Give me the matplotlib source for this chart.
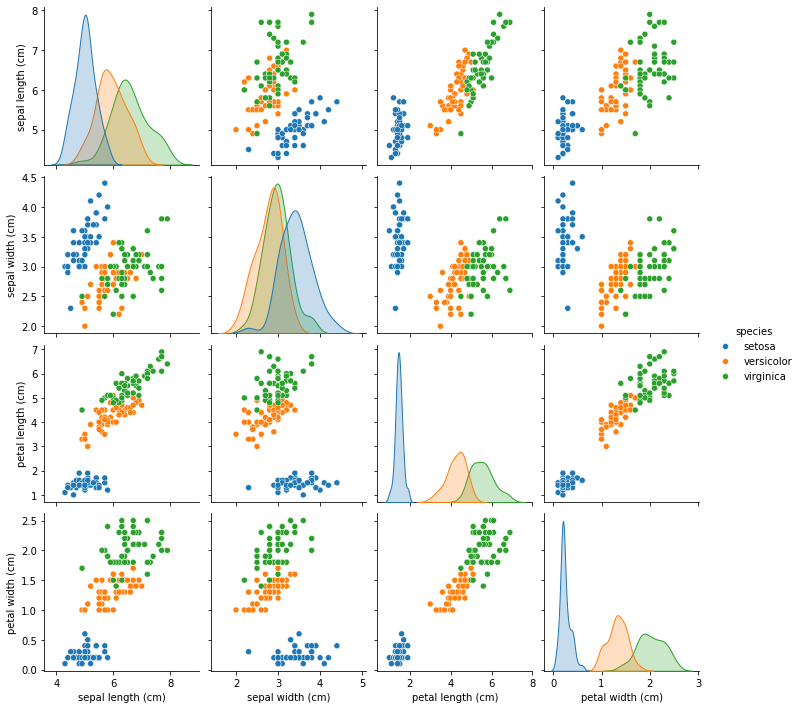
import pandas as pd
import seaborn as sns
import matplotlib
matplotlib.use('Agg')
import matplotlib.pyplot as plt

setosa_sl = [5.1,4.9,4.7,4.6,5.0,5.4,4.6,5.0,4.4,4.9,5.4,4.8,4.8,4.3,5.8,5.7,5.4,5.1,5.7,5.1,5.4,5.1,4.6,5.1,4.8,5.0,5.0,5.2,5.2,4.7,4.8,5.4,5.2,5.5,4.9,5.0,5.5,4.9,4.4,5.1,5.0,4.5,4.4,5.0,5.1,4.8,5.1,4.6,5.3,5.0]
setosa_sw = [3.5,3.0,3.2,3.1,3.6,3.9,3.4,3.4,2.9,3.1,3.7,3.4,3.0,3.0,4.0,4.4,3.9,3.5,3.8,3.8,3.4,3.7,3.6,3.3,3.4,3.0,3.4,3.5,3.4,3.2,3.1,3.4,4.1,4.2,3.1,3.2,3.5,3.6,3.0,3.4,3.5,2.3,3.2,3.5,3.8,3.0,3.8,3.2,3.7,3.3]
setosa_pl = [1.4,1.4,1.3,1.5,1.4,1.7,1.4,1.5,1.4,1.5,1.5,1.6,1.4,1.1,1.2,1.5,1.3,1.4,1.7,1.5,1.7,1.5,1.0,1.7,1.9,1.6,1.6,1.5,1.4,1.6,1.6,1.5,1.5,1.4,1.5,1.2,1.3,1.4,1.3,1.5,1.3,1.3,1.3,1.6,1.9,1.4,1.6,1.4,1.5,1.4]
setosa_pw = [.2,.2,.2,.2,.2,.4,.3,.2,.2,.1,.2,.2,.1,.1,.2,.4,.4,.3,.3,.3,.2,.4,.2,.5,.2,.2,.4,.2,.2,.2,.2,.4,.1,.2,.2,.2,.2,.1,.2,.2,.3,.3,.2,.6,.4,.3,.2,.2,.2,.2]

versicolor_sl = [7.0,6.4,6.9,5.5,6.5,5.7,6.3,4.9,6.6,5.2,5.0,5.9,6.0,6.1,5.6,6.7,5.6,5.8,6.2,5.6,5.9,6.1,6.3,6.1,6.4,6.6,6.8,6.7,6.0,5.7,5.5,5.5,5.8,6.0,5.4,6.0,6.7,6.3,5.6,5.5,5.5,6.1,5.8,5.0,5.6,5.7,5.7,6.2,5.1,5.7]
versicolor_sw = [3.2,3.2,3.1,2.3,2.8,2.8,3.3,2.4,2.9,2.7,2.0,3.0,2.2,2.9,2.9,3.1,3.0,2.7,2.2,2.5,3.2,2.8,2.5,2.8,2.9,3.0,2.8,3.0,2.9,2.6,2.4,2.4,2.7,2.7,3.0,3.4,3.1,2.3,3.0,2.5,2.6,3.0,2.6,2.3,2.7,3.0,2.9,2.9,2.5,2.8]
versicolor_pl = [4.7,4.5,4.9,4.0,4.6,4.5,4.7,3.3,4.6,3.9,3.5,4.2,4.0,4.7,3.6,4.4,4.5,4.1,4.5,3.9,4.8,4.0,4.9,4.7,4.3,4.4,4.8,5.0,4.5,3.5,3.8,3.7,3.9,5.1,4.5,4.5,4.7,4.4,4.1,4.0,4.4,4.6,4.0,3.3,4.2,4.2,4.2,4.3,3.0,4.1]
versicolor_pw = [1.4,1.5,1.5,1.3,1.5,1.3,1.6,1.0,1.3,1.4,1.0,1.5,1.0,1.4,1.3,1.4,1.5,1.0,1.5,1.1,1.8,1.3,1.5,1.2,1.3,1.4,1.4,1.7,1.5,1.0,1.1,1.0,1.2,1.6,1.5,1.6,1.5,1.3,1.3,1.3,1.2,1.4,1.2,1.0,1.3,1.2,1.3,1.3,1.1,1.3]

virginica_sl = [6.3,5.8,7.1,6.3,6.5,7.6,4.9,7.3,6.7,7.2,6.5,6.4,6.8,5.7,5.8,6.4,6.5,7.7,7.7,6.0,6.9,5.6,7.7,6.3,6.7,7.2,6.2,6.1,6.4,7.2,7.4,7.9,6.4,6.3,6.1,7.7,6.3,6.4,6.0,6.9,6.7,6.9,5.8,6.8,6.7,6.7,6.3,6.5,6.2,5.9]
virginica_sw = [3.3,2.7,3.0,2.9,3.0,3.0,2.5,2.9,2.5,3.6,3.2,2.7,3.0,2.5,2.8,3.2,3.0,3.8,2.6,2.2,3.2,2.8,2.8,2.7,3.3,3.2,2.8,3.0,2.8,3.0,2.8,3.8,2.8,2.8,2.6,3.0,3.4,3.1,3.0,3.1,3.1,3.1,2.7,3.2,3.3,3.0,2.5,3.0,3.4,3.0]
virginica_pl = [6.0,5.1,5.9,5.6,5.8,6.6,4.5,6.3,5.8,6.1,5.1,5.3,5.5,5.0,5.1,5.3,5.5,6.7,6.9,5.0,5.7,4.9,6.7,4.9,5.7,6.0,4.8,4.9,5.6,5.8,6.1,6.4,5.6,5.1,5.6,6.1,5.6,5.5,4.8,5.4,5.6,5.1,5.1,5.9,5.7,5.2,5.0,5.2,5.4,5.1]
virginica_pw = [2.5,1.9,2.1,1.8,2.2,2.1,1.7,1.8,1.8,2.5,2.0,1.9,2.1,2.0,2.4,2.3,1.8,2.2,2.3,1.5,2.3,2.0,2.0,1.8,2.1,1.8,1.8,1.8,2.1,1.6,1.9,2.0,2.2,1.5,1.4,2.3,2.4,1.8,1.8,2.1,2.4,2.3,1.9,2.3,2.5,2.3,1.9,2.0,2.3,1.8]

species_names = ['setosa', 'versicolor', 'virginica']

df = pd.DataFrame({
    'sepal length (cm)': setosa_sl + versicolor_sl + virginica_sl,
    'sepal width (cm)': setosa_sw + versicolor_sw + virginica_sw,
    'petal length (cm)': setosa_pl + versicolor_pl + virginica_pl,
    'petal width (cm)': setosa_pw + versicolor_pw + virginica_pw,
    'species': [s for s in species_names for _ in range(50)],
})

g = sns.pairplot(df, hue='species')
g.savefig('out.png', dpi=72, bbox_inches='tight')
